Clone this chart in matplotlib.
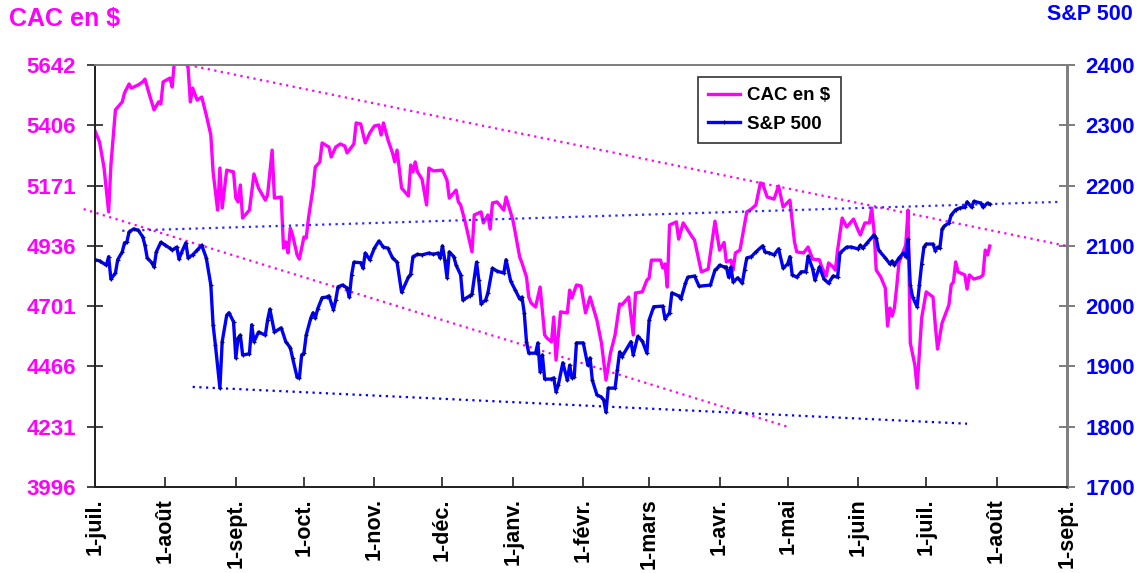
import numpy as np
import matplotlib
matplotlib.use("Agg")
import matplotlib.pyplot as plt
import matplotlib.dates as mdates

plt.rcParams['font.family'] = ['Liberation Sans', 'DejaVu Sans']

START = np.datetime64('2015-07-01')

# CAC 40 in USD: (days since 2015-07-01, value)
cac_days = [0, 2, 4, 6, 7, 9, 12, 13, 15, 16, 19, 21, 22, 24, 26, 28, 29, 30, 33, 34,
            35, 37, 40, 41, 42, 43, 45, 47, 49, 51, 52, 54, 55, 56, 58, 61, 62, 63, 64, 65,
            68, 70, 72, 75, 76, 78, 79, 82, 83, 84, 85, 86, 87, 89, 90, 92, 93, 94, 96, 97,
            99, 100, 103, 104, 106, 108, 110, 111, 114, 115, 117, 119, 121, 123, 125, 126, 127, 129, 131, 132,
            133, 135, 138, 139, 140, 141, 142, 144, 146, 147, 149, 153, 155, 156, 159, 160, 161, 163, 164, 166,
            167, 170, 171, 173, 174, 175, 177, 180, 181, 184, 185, 187, 188, 190, 191, 192, 194, 196, 198, 199,
            201, 202, 203, 205, 208, 209, 210, 212, 214, 216, 218, 221, 223, 225, 227, 229, 231, 232, 235, 237,
            238, 241, 243, 244, 245, 249, 250, 251, 252, 253, 256, 257, 259, 263, 264, 267, 270, 273, 275, 277,
            278, 280, 281, 282, 284, 287, 289, 291, 293, 294, 296, 299, 301, 303, 306, 308, 309, 312, 314, 316,
            319, 320, 322, 323, 325, 326, 327, 329, 331, 334, 336, 337, 339, 341, 342, 343, 344, 346, 348, 349,
            350, 351, 352, 353, 354, 357, 358, 359, 361, 362, 364, 366, 369, 370, 371, 373, 376, 377, 378, 379,
            380, 383, 384, 385, 387, 390, 391, 392, 393, 394]
cac_values = [5385, 5342, 5240, 5069, 5252, 5467, 5498, 5533, 5568, 5552, 5564, 5576, 5587, 5525, 5467, 5498, 5490, 5576, 5591, 5556,
              5660, 5690, 5660, 5630, 5498, 5552, 5505, 5517, 5447, 5369, 5225, 5076, 5240, 5084, 5232, 5225, 5123, 5108, 5174, 5045,
              5076, 5217, 5162, 5115, 5135, 5310, 5123, 5127, 4928, 4952, 4909, 5006, 4979, 4901, 4885, 4971, 4967, 5045, 5162, 5244,
              5264, 5338, 5322, 5283, 5322, 5334, 5326, 5299, 5334, 5416, 5412, 5338, 5377, 5404, 5408, 5369, 5416, 5350, 5299, 5264,
              5310, 5162, 5131, 5252, 5225, 5264, 5225, 5197, 5096, 5240, 5229, 5232, 5193, 5123, 5154, 5108, 5096, 5030, 4991, 4913,
              5057, 5069, 5026, 5057, 5002, 5104, 5108, 5076, 5127, 5037, 4991, 4893, 4870, 4815, 4737, 4714, 4698, 4776, 4589, 4577,
              4562, 4659, 4491, 4679, 4675, 4764, 4733, 4784, 4780, 4675, 4737, 4647, 4558, 4413, 4519, 4589, 4710, 4706, 4737, 4589,
              4753, 4757, 4803, 4811, 4881, 4881, 4850, 4866, 4776, 5018, 5030, 4963, 5026, 4971, 4959, 4835, 4846, 5033, 4920, 4950,
              4874, 4881, 4842, 4909, 4920, 5069, 5080, 5096, 5182, 5178, 5127, 5119, 5170, 5088, 5115, 4952, 4913, 4909, 4932, 4885,
              4882, 4854, 4819, 4870, 4854, 4842, 4920, 5045, 5010, 5041, 4998, 4979, 5026, 5026, 5084, 4998, 4842, 4815, 4772, 4624,
              4694, 4663, 4694, 4776, 4870, 4940, 5076, 4558, 4472, 4382, 4655, 4757, 4737, 4628, 4534, 4636, 4706, 4784, 4796, 4874,
              4835, 4823, 4768, 4823, 4807, 4815, 4823, 4920, 4901, 4936]

# S&P 500: (days since 2015-07-01, value)
sp_days = [0, 2, 5, 6, 7, 9, 10, 12, 13, 14, 15, 17, 19, 21, 22, 23, 25, 26, 27, 29,
           31, 33, 34, 36, 37, 38, 40, 41, 43, 45, 47, 49, 51, 52, 53, 55, 56, 58, 59, 61,
           62, 63, 64, 65, 68, 69, 70, 72, 75, 76, 77, 79, 82, 84, 86, 87, 89, 90, 91, 92,
           93, 95, 96, 97, 98, 100, 102, 103, 105, 106, 107, 109, 111, 112, 113, 114, 117, 118, 119, 121,
           123, 125, 127, 129, 131, 133, 135, 138, 139, 140, 142, 144, 147, 149, 151, 152, 153, 154, 155, 156,
           158, 159, 161, 162, 165, 166, 168, 169, 170, 172, 173, 175, 177, 180, 181, 183, 185, 187, 188, 189,
           190, 191, 194, 195, 196, 197, 198, 201, 202, 203, 204, 206, 208, 209, 210, 211, 212, 215, 217, 218,
           219, 221, 223, 224, 225, 226, 229, 230, 231, 232, 236, 237, 239, 241, 243, 244, 246, 250, 251, 253,
           254, 257, 258, 260, 261, 264, 266, 271, 273, 274, 275, 277, 278, 279, 280, 281, 283, 285, 286, 287,
           289, 291, 294, 295, 297, 299, 301, 303, 305, 306, 307, 309, 311, 313, 314, 316, 317, 319, 321, 323,
           325, 327, 328, 331, 333, 336, 337, 338, 340, 343, 344, 345, 348, 350, 351, 352, 354, 356, 357, 358,
           359, 360, 362, 363, 364, 365, 366, 369, 370, 371, 372, 373, 374, 376, 377, 379, 381, 383, 384, 386,
           387, 390, 391, 393, 394]
sp_values = [2077, 2075, 2068, 2082, 2045, 2055, 2077, 2090, 2105, 2106, 2123, 2128, 2126, 2115, 2101, 2080, 2072, 2065, 2090, 2106,
             2101, 2096, 2093, 2098, 2078, 2088, 2105, 2080, 2085, 2093, 2101, 2080, 2035, 1969, 1936, 1864, 1941, 1985, 1989, 1974,
             1914, 1947, 1952, 1919, 1921, 1969, 1941, 1957, 1952, 1977, 1995, 1957, 1964, 1941, 1931, 1914, 1882, 1881, 1919, 1922,
             1952, 1980, 1989, 1980, 1995, 2014, 2015, 2017, 1994, 2010, 2032, 2035, 2030, 2015, 2052, 2073, 2072, 2063, 2088, 2077,
             2096, 2108, 2098, 2096, 2080, 2073, 2023, 2048, 2053, 2082, 2086, 2085, 2088, 2086, 2088, 2080, 2100, 2077, 2047, 2090,
             2082, 2068, 2052, 2010, 2017, 2020, 2073, 2043, 2004, 2010, 2022, 2063, 2058, 2055, 2077, 2042, 2027, 2012, 2015, 1989,
             1941, 1922, 1922, 1939, 1891, 1919, 1879, 1879, 1881, 1858, 1869, 1906, 1877, 1902, 1881, 1882, 1939, 1939, 1902, 1914,
             1877, 1853, 1849, 1844, 1824, 1864, 1864, 1894, 1924, 1916, 1941, 1919, 1950, 1942, 1922, 1977, 1999, 2000, 1979, 1989,
             2022, 2017, 2012, 2038, 2048, 2050, 2033, 2035, 2060, 2063, 2068, 2065, 2065, 2048, 2065, 2040, 2047, 2038, 2060, 2080,
             2082, 2090, 2100, 2090, 2088, 2085, 2095, 2063, 2070, 2082, 2052, 2048, 2057, 2057, 2083, 2062, 2043, 2065, 2045, 2038,
             2050, 2048, 2088, 2098, 2098, 2095, 2101, 2096, 2105, 2118, 2113, 2093, 2080, 2070, 2075, 2068, 2080, 2088, 2082, 2111,
             2035, 2015, 1999, 2035, 2070, 2098, 2103, 2103, 2092, 2098, 2096, 2128, 2133, 2138, 2151, 2160, 2163, 2164, 2173, 2164,
             2174, 2171, 2164, 2171, 2169]

# trend lines (start/end day offsets and values)
cac_top_trend_days = [41, 428]
cac_top_trend_values = [5642, 4936]
cac_low_trend_days = [-5, 305]
cac_low_trend_values = [5080, 4231]
sp_top_trend_days = [12, 425]
sp_top_trend_values = [2125, 2173]
sp_low_trend_days = [43, 384]
sp_low_trend_values = [1866, 1805]

cac_ticks = [3996, 4231, 4466, 4701, 4936, 5171, 5406, 5642]
sp_ticks = [1700, 1800, 1900, 2000, 2100, 2200, 2300, 2400]
month_ticks = ['2015-07-01', '2015-08-01', '2015-09-01', '2015-10-01', '2015-11-01',
               '2015-12-01', '2016-01-01', '2016-02-01', '2016-03-01', '2016-04-01',
               '2016-05-01', '2016-06-01', '2016-07-01', '2016-08-01', '2016-09-01']
month_labels = ['1-juil.', '1-août', '1-sept.', '1-oct.', '1-nov.', '1-déc.', '1-janv.',
                '1-févr.', '1-mars', '1-avr.', '1-mai', '1-juin', '1-juil.', '1-août', '1-sept.']


def to_dates(days):
    return START + np.array(days, dtype='timedelta64[D]')


PINK = '#FF00FF'
BLUE = '#0000FF'

fig = plt.figure(figsize=(11.45, 5.73), dpi=100)
ax1 = fig.add_axes([95 / 1145, 86 / 573, 972 / 1145, 422 / 573])
ax2 = ax1.twinx()

l1, = ax1.plot(to_dates(cac_days), cac_values, color=PINK, lw=2.4, label='CAC en $', zorder=3)
ax1.plot(to_dates(cac_top_trend_days), cac_top_trend_values, color=PINK, lw=1.6,
         linestyle=(0, (1, 2)), zorder=2)
ax1.plot(to_dates(cac_low_trend_days), cac_low_trend_values, color=PINK, lw=1.6,
         linestyle=(0, (1, 2)), zorder=2, clip_on=False)

l2, = ax2.plot(to_dates(sp_days), sp_values, color=BLUE, lw=2.4, marker='+', ms=3.5,
               mew=0.9, mec='#000080', label='S&P 500', zorder=3)
ax2.plot(to_dates(sp_top_trend_days), sp_top_trend_values, color='#2a2aff', lw=1.6,
         linestyle=(0, (1, 2)), zorder=2)
ax2.plot(to_dates(sp_low_trend_days), sp_low_trend_values, color=BLUE, lw=1.6,
         linestyle=(0, (1, 2)), zorder=2)

xmin = np.datetime64('2015-07-01')
xmax = np.datetime64('2016-09-01')
ax1.set_xlim(xmin, xmax)
ax1.set_ylim(3996, 5642)
ax2.set_ylim(1700, 2400)

ax1.set_yticks(np.linspace(cac_ticks[0], cac_ticks[-1], len(cac_ticks)))
ax1.set_yticklabels([str(t) for t in cac_ticks])
ax2.set_yticks(sp_ticks)
ax2.set_yticklabels([str(t) for t in sp_ticks])
ax1.set_xticks([np.datetime64(m) for m in month_ticks])
ax1.set_xticklabels(month_labels, rotation=90)

for lab in ax1.get_yticklabels():
    lab.set_color(PINK)
    lab.set_fontweight('bold')
    lab.set_fontsize(16)
for lab in ax2.get_yticklabels():
    lab.set_color(BLUE)
    lab.set_fontweight('bold')
    lab.set_fontsize(16)
for lab in ax1.get_xticklabels():
    lab.set_fontweight('bold')
    lab.set_fontsize(15.5)
    lab.set_color('black')

ax1.tick_params(axis='y', direction='inout', length=11, width=1.2, color='#222222', pad=8)
ax2.tick_params(axis='y', direction='inout', length=11, width=1.2, color='#666666', pad=8)
ax1.tick_params(axis='x', direction='in', length=7, width=1.2, color='#222222', pad=8)

for ax in (ax1, ax2):
    ax.spines['left'].set_color('#222222')
    ax.spines['left'].set_linewidth(1.3)
    ax.spines['bottom'].set_color('#222222')
    ax.spines['bottom'].set_linewidth(1.3)
    ax.spines['top'].set_color('#808080')
    ax.spines['top'].set_linewidth(1.3)
    ax.spines['right'].set_color('#808080')
    ax.spines['right'].set_linewidth(2.0)

leg = ax2.legend(handles=[l1, l2], loc='upper left', bbox_to_anchor=(0.620, 0.972),
                 borderaxespad=0, fancybox=False, framealpha=1, edgecolor='#333333',
                 prop={'weight': 'bold', 'size': 13.5}, handlelength=1.7,
                 borderpad=0.55, labelspacing=0.6, handletextpad=0.4)
leg.get_frame().set_linewidth(1.2)

fig.text(9 / 1145, 1 - 19 / 573, 'CAC en $', color=PINK, fontsize=18, fontweight='bold',
         ha='left', va='center')
fig.text(1133 / 1145, 1 - 15 / 573, 'S&P 500', color=BLUE, fontsize=15.5, fontweight='bold',
         ha='right', va='center')

fig.savefig('out.png', dpi=100)
